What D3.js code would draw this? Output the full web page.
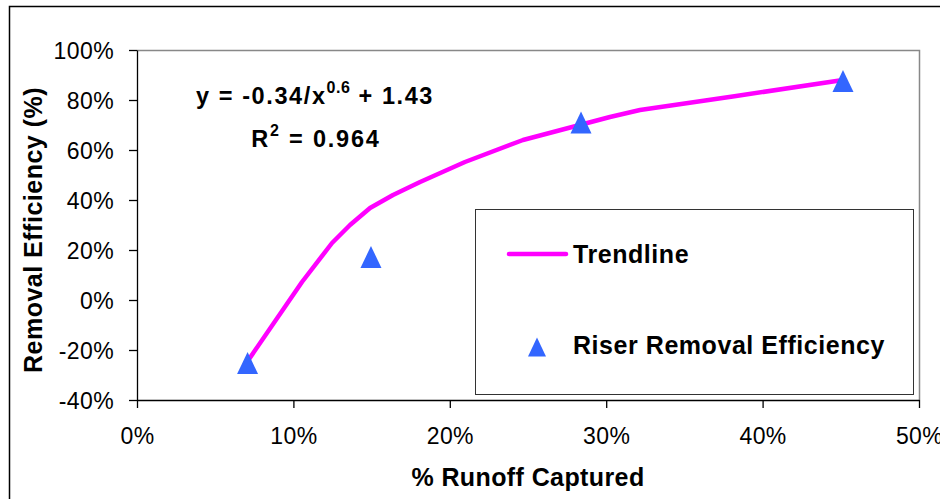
<!DOCTYPE html>
<html><head><meta charset="utf-8">
<script src="https://cdn.jsdelivr.net/npm/d3@7/dist/d3.min.js"></script>
<style>body{margin:0;background:#fff;} svg{display:block;font-family:"Liberation Sans",Arial,sans-serif;}</style>
</head><body>
<svg id="c" width="940" height="499"></svg>
<script>
// Data
const pointX = [0.0707, 0.1496, 0.2839, 0.4514];
const pointY = [-0.252, 0.172, 0.710, 0.876];
const trendX = [0.0707, 0.1055, 0.1247, 0.1362, 0.149, 0.1637, 0.181, 0.2097, 0.2468, 0.3024, 0.3216, 0.382, 0.4514];
const trendY = [-0.245, 0.072, 0.228, 0.300, 0.368, 0.420, 0.472, 0.552, 0.640, 0.732, 0.760, 0.815, 0.880];
const xTicks = [0, 0.1, 0.2, 0.3, 0.4, 0.5];
const yTicks = [-0.4, -0.2, 0, 0.2, 0.4, 0.6, 0.8, 1.0];
const legendLabels = ["Trendline", "Riser Removal Efficiency"];

const svg = d3.select("#c");
const L = 137, R = 919, T = 50, B = 400;
const x = d3.scaleLinear().domain([0, 0.5]).range([L, R]);
const y = d3.scaleLinear().domain([-0.4, 1.0]).range([B, T]);
const pct = v => d3.format(".0%")(v).replace("\u2212", "-");

// tall triangle symbol (Excel-style marker)
const triType = { draw(ctx, size) { const w = Math.sqrt(size), h = w * 1.05;
  ctx.moveTo(0, -h / 2); ctx.lineTo(w / 2, h / 2); ctx.lineTo(-w / 2, h / 2); ctx.closePath(); } };

// outer chart border
svg.append("rect").attr("x", 9.5).attr("y", 6.5).attr("width", 940).attr("height", 500)
  .attr("fill", "none").attr("stroke", "#000").attr("stroke-width", 1.5);

// plot area border (top, right)
svg.append("path").attr("d", `M${L},${T+0.5}H${R+0.5}V${B}`)
  .attr("fill", "none").attr("stroke", "#888").attr("stroke-width", 1.5);

// axes
const yAxis = svg.append("g").attr("transform", `translate(${L},0)`)
  .call(d3.axisLeft(y).tickValues(yTicks).tickFormat(pct).tickSize(8).tickSizeOuter(0).tickPadding(15));
const xAxis = svg.append("g").attr("transform", `translate(0,${B})`)
  .call(d3.axisBottom(x).tickValues(xTicks).tickFormat(pct).tickSize(8).tickSizeOuter(0).tickPadding(14));
[yAxis, xAxis].forEach(g => {
  g.selectAll("path,line").attr("stroke", "#000").attr("stroke-width", 1.3);
  g.selectAll("text").attr("font-size", 23).attr("fill", "#000").attr("letter-spacing", 0.4)
    .attr("font-family", "'Liberation Sans',Arial,sans-serif");
});
xAxis.selectAll("text").attr("dy", "0.95em");
yAxis.selectAll("text").attr("dy", "0.35em");

// legend box
svg.append("rect").attr("x", 475.5).attr("y", 209.5).attr("width", 438).attr("height", 185)
  .attr("fill", "#fff").attr("stroke", "#333").attr("stroke-width", 1);

// trendline
const line = d3.line().x(d => x(d[0])).y(d => y(d[1]));
svg.append("path").datum(d3.zip(trendX, trendY)).attr("d", line)
  .attr("fill", "none").attr("stroke", "#FF00FF").attr("stroke-width", 4.5).attr("stroke-linejoin", "round");

// points
svg.selectAll(".pt").data(d3.zip(pointX, pointY)).join("path").attr("class", "pt")
  .attr("d", d3.symbol().type(triType).size(441)).attr("transform", d => `translate(${x(d[0])},${y(d[1])})`)
  .attr("fill", "#3366FF");

// legend entries
svg.append("line").attr("x1", 509).attr("x2", 566).attr("y1", 254).attr("y2", 254)
  .attr("stroke", "#FF00FF").attr("stroke-width", 4.5).attr("stroke-linecap", "round");
svg.append("path").attr("d", d3.symbol().type(triType).size(324))
  .attr("transform", "translate(537,347)").attr("fill", "#3366FF");
svg.selectAll(".lg").data(legendLabels).join("text").attr("class", "lg")
  .attr("x", 573).attr("y", (d, i) => i === 0 ? 263 : 354)
  .attr("font-size", 25).attr("letter-spacing", 0.55).attr("font-weight", "bold").text(d => d);

// equation
const eq = svg.append("text").attr("x", 315).attr("y", 104).attr("text-anchor", "middle")
  .attr("font-size", 23.5).attr("font-weight", "bold").attr("letter-spacing", 1.6);
eq.append("tspan").text("y = -0.34/x");
eq.append("tspan").attr("dy", -11).attr("font-size", 16).attr("letter-spacing", 0.5).text("0.6");
eq.append("tspan").attr("dy", 11).text(" + 1.43");
const r2 = svg.append("text").attr("x", 316).attr("y", 147).attr("text-anchor", "middle")
  .attr("font-size", 23.5).attr("font-weight", "bold").attr("letter-spacing", 1.8);
r2.append("tspan").text("R");
r2.append("tspan").attr("dy", -11).attr("font-size", 16).text("2");
r2.append("tspan").attr("dy", 11).text(" = 0.964");

// axis titles
svg.append("text").attr("x", 528).attr("y", 486).attr("text-anchor", "middle")
  .attr("font-size", 25).attr("font-weight", "bold").attr("letter-spacing", 0.4).text("% Runoff Captured");
svg.append("text").attr("transform", "translate(42,230) rotate(-90)").attr("text-anchor", "middle")
  .attr("font-size", 25).attr("font-weight", "bold").attr("letter-spacing", 0.5).text("Removal Efficiency (%)");
</script>
</body></html>
